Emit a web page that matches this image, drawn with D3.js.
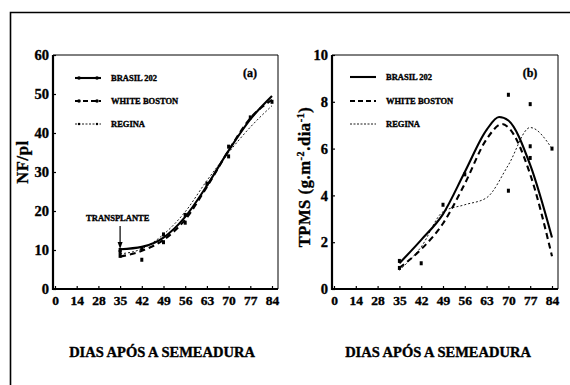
<!DOCTYPE html>
<head>
    <meta charset="UTF-8">
    <script src="https://d3js.org/d3.v7.min.js"></script>
    <style>
        body { margin: 0; background: white; }
        text { font-family: "Liberation Serif", "DejaVu Serif", serif; font-weight: bold; fill: black; }
        .heavy { stroke: black; stroke-width: 0.35px; }
    </style>
</head>
<body>
    <div id="viz"></div>
    <script>
        // x axis tick labels (evenly spaced, categorical)
        const xTicks = ["0", "14", "28", "35", "42", "49", "56", "63", "70", "77", "84"];
        const seriesNames = ["BRASIL 202", "WHITE BOSTON", "REGINA"];

        // panel (a) NF/pl - fitted curves
        const nfDays = [35, 42, 49, 56, 63, 70, 77, 84];
        const nfBrasil = [10.2, 10.8, 13.2, 18.5, 26.5, 35.5, 43.5, 49.5];
        const nfWhite = [8.3, 9.8, 12.6, 17.8, 26.2, 35.5, 43.8, 48.5];
        const nfRegina = [9.0, 10.3, 14.0, 19.8, 27.8, 35.0, 41.5, 47.0];
        // panel (a) observed points
        const nfObsDays = [35, 35, 35, 42, 42, 49, 49, 56, 56, 63, 70, 70, 77, 84];
        const nfObsVals = [10.0, 8.5, 9.5, 7.5, 10.5, 12.0, 14.0, 17.0, 19.0, 27.0, 36.5, 34.0, 44.0, 48.0];

        // panel (b) TPMS - fitted curves
        const tpDaysB = [35, 42, 49, 56, 63, 67, 70, 77, 84];
        const tpBrasil = [1.1, 2.1, 3.2, 5.0, 6.8, 7.35, 7.2, 5.3, 2.2];
        const tpDaysW = [35, 42, 49, 56, 63, 68, 70, 77, 84];
        const tpWhite = [0.9, 1.7, 2.8, 4.5, 6.4, 7.05, 6.9, 4.9, 1.4];
        const tpDaysR = [35, 42, 49, 56, 63, 70, 77, 84];
        const tpRegina = [0.8, 1.8, 3.3, 3.6, 3.9, 5.3, 6.9, 6.0];
        // panel (b) observed points
        const tpObsDays = [35, 35, 42, 49, 56, 70, 70, 77, 77, 77, 84];
        const tpObsVals = [1.2, 0.9, 1.1, 3.6, 4.9, 8.3, 4.2, 7.9, 6.1, 5.6, 6.0];

        const width = 570, height = 385;
        const svg = d3.select("#viz").append("svg")
            .attr("width", width).attr("height", height);

        // outer frame (left and top only)
        svg.append("path")
            .attr("d", "M10.5,385 V12.5 H570")
            .attr("fill", "none").attr("stroke", "black").attr("stroke-width", 1.6);

        const yTop = 55, yBottom = 289;

        function drawPanel(opt) {
            const g = svg.append("g");
            const xp = d3.scalePoint().domain(xTicks).range([opt.x0 + 2, opt.x1 - 6]);
            const xd = d3.scaleLinear().domain([35, 84]).range([xp("35"), xp("84")]);
            const y = d3.scaleLinear().domain([0, opt.ymax]).range([yBottom, yTop]);

            // box: thin top/right, heavy left/bottom
            g.append("path")
                .attr("d", `M${opt.x0},${yTop} H${opt.x1} V${yBottom}`)
                .attr("fill", "none").attr("stroke", "black").attr("stroke-width", 1);
            g.append("path")
                .attr("d", `M${opt.x0},${yTop} V${yBottom} H${opt.x1}`)
                .attr("fill", "none").attr("stroke", "black").attr("stroke-width", 2.2);

            // x ticks
            const xa = g.append("g").attr("transform", `translate(0,${yBottom})`)
                .call(d3.axisBottom(xp).tickSize(-3).tickPadding(6));
            xa.select(".domain").remove();
            xa.selectAll("line").attr("stroke-width", 1.2);
            xa.selectAll("text").style("font-size", "13.5px").attr("font-family", null)
                .classed("heavy", true);

            // y ticks
            const ya = g.append("g").attr("transform", `translate(${opt.x0},0)`)
                .call(d3.axisLeft(y).tickValues(opt.yTicks).tickSize(-3).tickPadding(4));
            ya.select(".domain").remove();
            ya.selectAll("line").attr("stroke-width", 1.2);
            ya.selectAll("text").style("font-size", "14.5px").attr("font-family", null)
                .classed("heavy", true);

            // axis titles
            g.append("text")
                .attr("x", opt.titleX).attr("y", 357)
                .attr("text-anchor", "middle").style("font-size", "14.5px")
                .classed("heavy", true)
                .text("DIAS APÓS A SEMEADURA");
            const yl = g.append("text")
                .attr("transform", `translate(${opt.ylabX},${opt.ylabY}) rotate(-90)`)
                .attr("text-anchor", "middle").style("font-size", "16.5px")
                .style("letter-spacing", "0.6px")
                .classed("heavy", true);
            opt.ylab(yl);

            // panel letter
            g.append("text")
                .attr("x", opt.x1 - 28).attr("y", 77)
                .attr("text-anchor", "middle").style("font-size", "12px")
                .classed("heavy", true)
                .text(opt.letter);

            // curves
            const styles = [
                { w: 2.1, dash: null },
                { w: 2.1, dash: "6,4" },
                { w: 0.9, dash: "2,2" }
            ];
            opt.curves.forEach((c, i) => {
                const pts = c.days.map((d, k) => [xd(d), y(c.vals[k])]);
                g.append("path")
                    .attr("d", d3.line().curve(d3.curveMonotoneX)(pts))
                    .attr("fill", "none").attr("stroke", "black")
                    .attr("stroke-width", styles[i].w)
                    .attr("stroke-dasharray", styles[i].dash);
            });

            // observed points
            g.selectAll(".obs").data(opt.obsDays).enter()
                .append("rect")
                .attr("x", d => xd(d) - 1.5)
                .attr("y", (d, k) => y(opt.obsVals[k]) - 2)
                .attr("width", 3).attr("height", 4)
                .attr("fill", "black");

            // legend
            seriesNames.forEach((name, i) => {
                const ly = opt.legY[i];
                g.append("line")
                    .attr("x1", opt.legX).attr("x2", opt.legX + 26)
                    .attr("y1", ly).attr("y2", ly)
                    .attr("stroke", "black")
                    .attr("stroke-width", styles[i].w)
                    .attr("stroke-dasharray", i === 1 ? "5,3" : (i === 2 ? "2,1.5" : null));
                if (opt.legMarks) {
                    [opt.legX + 4, opt.legX + 22].forEach(mx => {
                        g.append("circle").attr("cx", mx).attr("cy", ly)
                            .attr("r", i === 2 ? 1.2 : 1.8).attr("fill", "black");
                    });
                }
                g.append("text")
                    .attr("x", opt.legX + 36).attr("y", ly + 3)
                    .style("font-size", "8.5px")
                    .classed("heavy", true)
                    .text(name);
            });
            return { xd, y, g };
        }

        const pa = drawPanel({
            x0: 53, x1: 278, ymax: 60, yTicks: [0, 10, 20, 30, 40, 50, 60],
            titleX: 162, ylabX: 28, ylabY: 162, letter: "(a)",
            ylab: t => t.text("NF/pl"),
            legX: 75, legY: [78, 101, 124], legMarks: true,
            curves: [
                { days: nfDays, vals: nfBrasil },
                { days: nfDays, vals: nfWhite },
                { days: nfDays, vals: nfRegina }
            ],
            obsDays: nfObsDays, obsVals: nfObsVals
        });

        // transplant annotation
        const tx = pa.xd(35);
        pa.g.append("text")
            .attr("x", tx - 34).attr("y", 221)
            .style("font-size", "8.5px")
            .classed("heavy", true)
            .text("TRANSPLANTE");
        pa.g.append("line")
            .attr("x1", tx).attr("x2", tx).attr("y1", 226).attr("y2", 243)
            .attr("stroke", "black").attr("stroke-width", 1.2);
        pa.g.append("path")
            .attr("d", `M${tx - 2.5},${242} L${tx + 2.5},${242} L${tx},${249} Z`)
            .attr("fill", "black");

        drawPanel({
            x0: 332, x1: 558, ymax: 10, yTicks: [0, 2, 4, 6, 8, 10],
            titleX: 438, ylabX: 310, ylabY: 177, letter: "(b)",
            ylab: t => {
                t.append("tspan").text("TPMS (g.m");
                t.append("tspan").attr("dy", -6).style("font-size", "10px").text("-2");
                t.append("tspan").attr("dy", 6).text(".dia");
                t.append("tspan").attr("dy", -6).style("font-size", "10px").text("-1");
                t.append("tspan").attr("dy", 6).text(")");
            },
            legX: 350, legY: [77, 101, 124], legMarks: false,
            curves: [
                { days: tpDaysB, vals: tpBrasil },
                { days: tpDaysW, vals: tpWhite },
                { days: tpDaysR, vals: tpRegina }
            ],
            obsDays: tpObsDays, obsVals: tpObsVals
        });
    </script>
</body>
</html>
